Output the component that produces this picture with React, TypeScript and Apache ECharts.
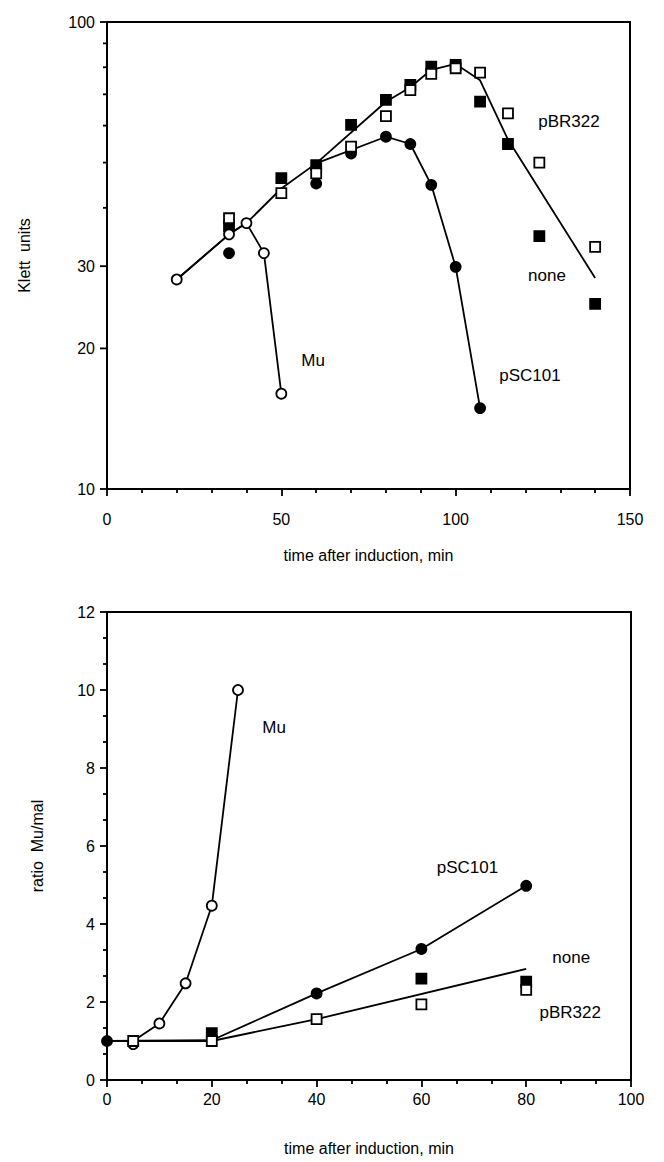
import React, { useEffect, useRef } from "react";
import * as echarts from "echarts";

// ---------- top panel: Klett units (log) vs time ----------
const topXTicks = { min: 0, max: 150, interval: 50 };
const topYMinorTicks = [20, 30, 40, 50, 60, 70, 80, 90];
const topYExtraLabels = [20, 30];

const topMuFit = [[20, 28.1], [35, 35.1], [40, 37.1], [45, 32.0], [50, 16.0]];
const topPSC101Fit = [[20, 28.1], [35, 35.1], [40, 37.1], [50, 44.0], [60, 49.8], [80, 56.8], [87, 54.8], [93, 44.8], [100, 29.9], [107, 14.9]];
const topNoneFit = [[60, 49.8], [80, 67.5], [87, 72.5], [93, 79.0], [100, 81.3], [107, 75.0], [115, 56.0], [140, 28.3]];

const topMu = [[20, 28.1], [35, 35.1], [40, 37.1], [45, 32.0], [50, 16.0]];
const topPSC101 = [[35, 32.0], [60, 45.1], [70, 52.3], [80, 56.8], [87, 54.8], [93, 44.8], [100, 29.9], [107, 14.9]];
const topNone = [[35, 36.5], [50, 46.3], [60, 49.4], [70, 60.2], [80, 68.1], [87, 73.3], [93, 80.2], [100, 80.9], [107, 67.5], [115, 54.8], [124, 34.8], [140, 24.9]];
const topPBR322 = [[35, 38.0], [50, 43.0], [60, 47.4], [70, 54.1], [80, 62.9], [87, 71.5], [93, 77.4], [100, 79.6], [107, 77.9], [115, 63.7], [124, 50.0], [140, 33.0]];

const topNoteNames = ["Mu", "pSC101", "pBR322", "none"];
const topNotePos = [[59.1, 18.8], [121.3, 17.5], [132.5, 61.1], [126.2, 28.6]];

// ---------- bottom panel: ratio Mu/mal vs time ----------
const botMuFit = [[0, 1.0], [5, 1.0], [10, 1.45], [15, 2.48], [20, 4.47], [25, 10.0]];
const botPSC101Fit = [[0, 1.0], [20, 1.02], [40, 2.22], [60, 3.36], [80, 4.98]];
const botNoneFit = [[0, 1.0], [20, 1.0], [40, 1.56], [80, 2.85]];

const botMu = [[5, 0.92], [10, 1.45], [15, 2.48], [20, 4.47], [25, 10.0]];
const botPSC101 = [[0, 1.0], [40, 2.22], [60, 3.36], [80, 4.98]];
const botNone = [[20, 1.2], [60, 2.6], [80, 2.52]];
const botPBR322 = [[5, 1.0], [20, 1.0], [40, 1.56], [60, 1.94], [80, 2.31]];

const botNoteNames = ["Mu", "pSC101", "none", "pBR322"];
const botNotePos = [[31.9, 9.05], [68.8, 5.44], [88.6, 3.13], [88.4, 1.74]];

const FONT = "'Liberation Sans', Arial, Helvetica, sans-serif";
const BLACK = "#000";
const LW = 1.8;

function fitLine(data: number[][], xi: number, yi: number) {
  return {
    type: "line",
    xAxisIndex: xi,
    yAxisIndex: yi,
    data,
    symbol: "none",
    smooth: false,
    lineStyle: { color: BLACK, width: LW },
    z: 2,
    clip: false,
    silent: true,
  };
}

function points(data: number[][], xi: number, yi: number, symbol: string, filled: boolean, z: number) {
  return {
    type: "scatter",
    xAxisIndex: xi,
    yAxisIndex: yi,
    data,
    symbol: symbol === "square" ? "rect" : "circle",
    symbolSize: 10,
    clip: false,
    itemStyle: {
      color: filled ? BLACK : "#fff",
      borderColor: BLACK,
      borderWidth: LW,
      opacity: 1,
    },
    z,
    silent: true,
  };
}

function notes(names: string[], pos: number[][], xi: number, yi: number) {
  return {
    type: "custom",
    xAxisIndex: xi,
    yAxisIndex: yi,
    data: pos,
    encode: { x: 0, y: 1 },
    clip: false,
    silent: true,
    z: 10,
    renderItem: (params: any, api: any) => {
      const p = api.coord([api.value(0), api.value(1)]);
      return {
        type: "text",
        x: p[0],
        y: p[1],
        style: {
          text: names[params.dataIndex],
          fill: BLACK,
          fontSize: 17,
          fontFamily: FONT,
          align: "center",
          verticalAlign: "middle",
        },
      };
    },
  };
}

export default function App() {
  const ref = useRef<HTMLDivElement>(null);

  useEffect(() => {
    if (!ref.current) return;
    const chart = echarts.init(ref.current, undefined, { renderer: "svg" });

    const axisCommon = {
      axisLine: { show: true, lineStyle: { color: BLACK, width: 2 } },
      axisTick: { show: true, inside: false, length: 7, lineStyle: { color: BLACK, width: LW } },
      minorTick: { show: true, length: 4, lineStyle: { color: BLACK, width: LW } },
      splitLine: { show: false },
      minorSplitLine: { show: false },
      nameTextStyle: { color: BLACK, fontSize: 16, fontFamily: FONT },
    };
    const labelStyle = { fontSize: 16, color: BLACK, fontFamily: FONT };

    const option: any = {
      animation: false,
      backgroundColor: "#fff",
      textStyle: { fontFamily: FONT, color: BLACK },
      grid: [
        { left: 107, top: 22, width: 523, height: 467, show: true, borderColor: BLACK, borderWidth: 2, backgroundColor: "transparent" },
        { left: 107, top: 612, width: 524, height: 468, show: true, borderColor: BLACK, borderWidth: 2, backgroundColor: "transparent" },
      ],
      xAxis: [
        {
          ...axisCommon,
          gridIndex: 0,
          type: "value",
          min: topXTicks.min,
          max: topXTicks.max,
          interval: topXTicks.interval,
          minorTick: { ...axisCommon.minorTick, splitNumber: 5 },
          axisLabel: { ...labelStyle, margin: 22 },
          name: "time after induction, min",
          nameLocation: "middle",
          nameGap: 58,
        },
        {
          ...axisCommon,
          gridIndex: 1,
          type: "value",
          min: 0,
          max: 100,
          interval: 20,
          minorTick: { ...axisCommon.minorTick, splitNumber: 3 },
          axisLabel: { ...labelStyle, margin: 11 },
          name: "time after induction, min",
          nameLocation: "middle",
          nameGap: 60,
        },
      ],
      yAxis: [
        {
          ...axisCommon,
          gridIndex: 0,
          type: "log",
          logBase: 10,
          min: 10,
          max: 100,
          minorTick: { show: false },
          axisLabel: { ...labelStyle, margin: 12 },
          name: "Klett  units",
          nameLocation: "middle",
          nameRotate: 90,
          nameGap: 75,
        },
        {
          ...axisCommon,
          gridIndex: 1,
          type: "value",
          min: 0,
          max: 12,
          interval: 2,
          minorTick: { ...axisCommon.minorTick, splitNumber: 3 },
          axisLabel: { ...labelStyle, margin: 12 },
          name: "ratio  Mu/mal",
          nameLocation: "middle",
          nameRotate: 90,
          nameGap: 62,
        },
      ],
      series: [
        // extra log-axis ticks and labels (top panel)
        {
          type: "custom",
          xAxisIndex: 0,
          yAxisIndex: 0,
          data: topYMinorTicks.map((v) => [0, v]),
          clip: false,
          silent: true,
          encode: { x: 0, y: 1 },
          renderItem: (_params: any, api: any) => {
            const v = api.value(1);
            const p = api.coord([0, v]);
            const long = topYExtraLabels.indexOf(v) >= 0;
            const children: any[] = [
              {
                type: "line",
                shape: { x1: p[0] - (long ? 7 : 4), y1: p[1], x2: p[0], y2: p[1] },
                style: { stroke: BLACK, lineWidth: LW },
              },
            ];
            if (long) {
              children.push({
                type: "text",
                x: p[0] - 12,
                y: p[1],
                style: {
                  text: String(v),
                  fill: BLACK,
                  fontSize: 16,
                  fontFamily: FONT,
                  align: "right",
                  verticalAlign: "middle",
                },
              });
            }
            return { type: "group", children };
          },
          z: 5,
        },
        fitLine(topPSC101Fit, 0, 0),
        fitLine(topMuFit, 0, 0),
        fitLine(topNoneFit, 0, 0),
        points(topPSC101, 0, 0, "circle", true, 3),
        points(topNone, 0, 0, "square", true, 4),
        points(topPBR322, 0, 0, "square", false, 5),
        points(topMu, 0, 0, "circle", false, 6),
        notes(topNoteNames, topNotePos, 0, 0),

        fitLine(botPSC101Fit, 1, 1),
        fitLine(botNoneFit, 1, 1),
        fitLine(botMuFit, 1, 1),
        points(botPSC101, 1, 1, "circle", true, 3),
        points(botNone, 1, 1, "square", true, 4),
        points(botMu, 1, 1, "circle", false, 5),
        points(botPBR322, 1, 1, "square", false, 6),
        notes(botNoteNames, botNotePos, 1, 1),
      ],
    };

    chart.setOption(option);
    return () => chart.dispose();
  }, []);

  return (
    <div
      ref={ref}
      style={{ position: "absolute", left: 0, top: 0, width: 664, height: 1162, background: "#fff" }}
    />
  );
}
